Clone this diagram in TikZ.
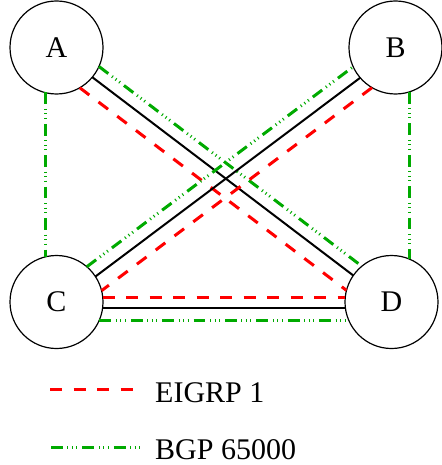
\documentclass[tikz,border=0pt]{standalone}
\usepackage{fontspec}
\setmainfont{Liberation Serif}
\usetikzlibrary{calc}
\definecolor{bgpgreen}{RGB}{0,170,0}
\tikzset{
  router/.style={circle,draw=black,line width=1.2pt,fill=white,minimum size=93pt,inner sep=0pt,font=\fontsize{30}{36}\selectfont},
  eigrp/.style={draw=red,line width=3pt,dash pattern=on 12pt off 11.5pt},
  bgp/.style={draw=bgpgreen,line width=3pt,dash pattern=on 11.7pt off 4.7pt on 1pt off 3.5pt on 1pt off 3.5pt on 1pt off 5pt},
  phys/.style={draw=black,line width=2pt},
  legendtext/.style={anchor=base west,inner sep=0pt,font=\fontsize{30}{36}\selectfont}
}
\begin{document}
\begin{tikzpicture}[x=1pt,y=-1pt]
\useasboundingbox (0,0) rectangle (441,465);
\node[router] (A) at (56.5,47.5) {A};
\node[router] (B) at (395.5,47.5) {B};
\node[router] (C) at (56.5,302) {C};
\node[router] (D) at (391.5,302) {D};
% A -- D
\draw[bgp,shorten <=45.3pt,shorten >=45.3pt] ($(A)+(6.4,-8.4)$) -- ($(D)+(6.4,-8.4)$);
\draw[phys,shorten <=46.4pt,shorten >=46.4pt] ($(A)+(-1.2,1.6)$) -- ($(D)+(-1.2,1.6)$);
\draw[eigrp,shorten <=42.9pt,shorten >=42.9pt] ($(A)+(-10.9,14.3)$) -- ($(D)+(-10.9,14.3)$);
% B -- C
\draw[bgp,shorten <=45.4pt,shorten >=45.4pt] ($(C)+(-6,-8)$) -- ($(B)+(-6,-8)$);
\draw[phys,shorten <=46.4pt,shorten >=46.4pt] ($(C)+(1.8,2.4)$) -- ($(B)+(1.8,2.4)$);
\draw[eigrp,shorten <=42.9pt,shorten >=42.9pt] ($(B)+(10.8,14.4)$) -- ($(C)+(10.8,14.4)$);
% C -- D
\draw[eigrp,shorten <=46.2pt,shorten >=46.2pt] ($(C)+(0,-5)$) -- ($(D)+(0,-5)$);
\draw[phys,shorten <=46.1pt,shorten >=46.1pt] ($(C)+(0,6)$) -- ($(D)+(0,6)$);
\draw[bgp,shorten <=42.9pt,shorten >=42.9pt] ($(C)+(0,18)$) -- ($(D)+(0,18)$);
% A -- C, B -- D
\draw[bgp,shorten <=45pt,shorten >=45pt] ($(A)+(-11.5,0)$) -- ($(C)+(-11.5,0)$);
\draw[bgp,shorten <=44.6pt,shorten >=43.1pt] ($(B)+(13.5,0)$) -- ($(B |- D)+(13.5,0)$);
% legend
\coordinate (e1) at (50,389);
\coordinate (e2) at (134,389);
\coordinate (g1) at (51,447);
\coordinate (g2) at (140,447);
\draw[eigrp] (e1) -- (e2);
\draw[bgp] (g1) -- (g2);
\node[legendtext] (le) at (155,402) {EIGRP 1};
\node[legendtext] (lb) at (155,459.5) {BGP 65000};
\end{tikzpicture}
\end{document}
